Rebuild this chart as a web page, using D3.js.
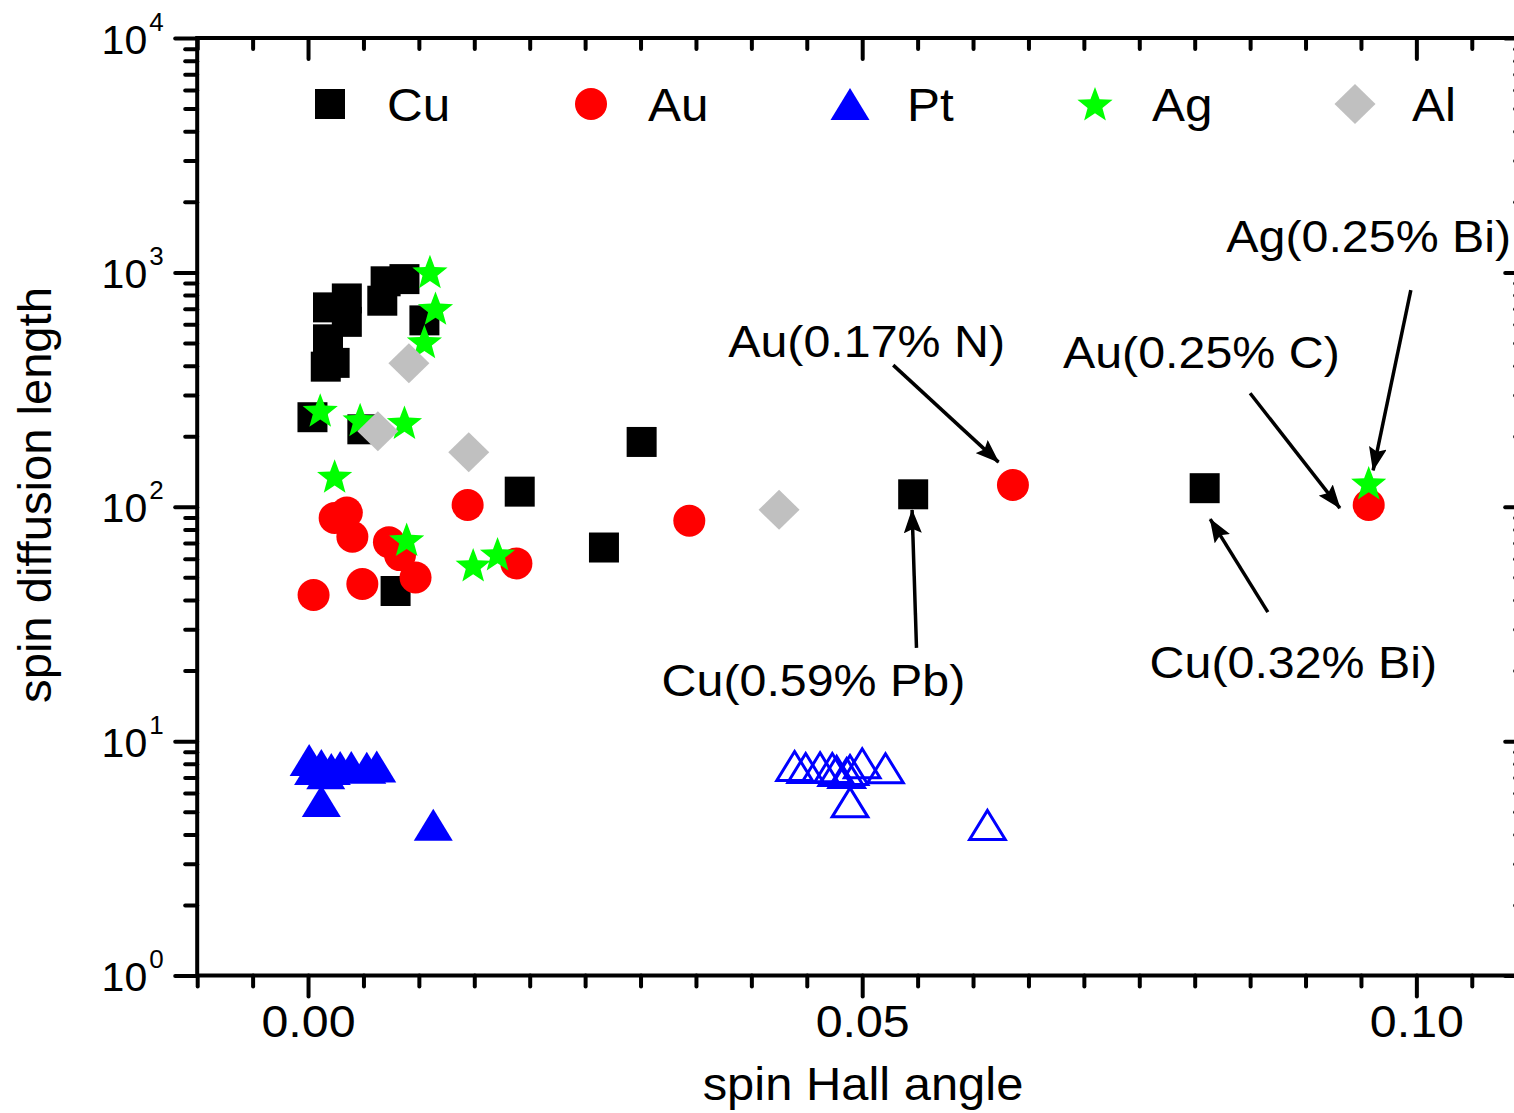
<!DOCTYPE html>
<html><head><meta charset="utf-8">
<script src="https://cdn.jsdelivr.net/npm/d3@7/dist/d3.min.js"></script>
<style>
body{margin:0;background:#fff}
svg{display:block}
text{font-family:"Liberation Sans",Arial,Helvetica,sans-serif;fill:#000}
</style>
</head><body>
<svg id="chart" width="1514" height="1113"></svg>
<script>
// ---------------- data ----------------
const cuX = [0.0018, 0.0035, 0.0035, 0.0018, 0.0016, 0.0024, 0.0067, 0.0070, 0.0087, 0.0105, 0.0004, 0.0049, 0.0079, 0.0191, 0.0301, 0.0267, 0.0546, 0.0809];
const cuY = [709, 774, 615, 518, 396, 411, 757, 916, 936, 624, 241, 214, 43.7, 116, 189, 67, 113, 120];

const auX = [0.0024, 0.0035, 0.0040, 0.0073, 0.0083, 0.0097, 0.0049, 0.0005, 0.0144, 0.0188, 0.0344, 0.0636, 0.0957];
const auY = [89.5, 94.5, 74.5, 70.6, 62.2, 49.9, 46.8, 42.0, 101.7, 57.3, 87.2, 123.8, 101.7];

const ptX = [0.0001, 0.0012, 0.0021, 0.0029, 0.0039, 0.0053, 0.0062, 0.0005, 0.0016, 0.0012, 0.0113];
const ptY = [8.3, 7.9, 7.6, 7.75, 7.75, 7.7, 7.8, 7.6, 7.3, 5.55, 4.4];

const ptOpenX = [0.0439, 0.0449, 0.0462, 0.0473, 0.0477, 0.0486, 0.0489, 0.0500, 0.0521, 0.0489, 0.0613];
const ptOpenY = [7.83, 7.68, 7.73, 7.68, 7.46, 7.31, 7.53, 8.04, 7.66, 5.48, 4.39];

const agX = [0.0110, 0.0115, 0.0105, 0.0011, 0.0047, 0.0087, 0.0024, 0.0089, 0.0149, 0.0171, 0.0957];
const agY = [1006, 702, 506, 258, 235, 229, 135, 72.4, 56.4, 62.9, 126.3];

const alX = [0.0091, 0.0063, 0.0145, 0.0425];
const alY = [410, 210, 171, 97];

const legendLabels = ["Cu", "Au", "Pt", "Ag", "Al"];

const xTickValues = [0.00, 0.05, 0.10];
const xTickLabels = ["0.00", "0.05", "0.10"];
const yTickValues = [1, 10, 100, 1000, 10000];
const yTickExponents = ["0", "1", "2", "3", "4"];

const xTitle = "spin Hall angle";
const yTitle = "spin diffusion length";

// annotations (data coordinates)
const annLabels = ["Au(0.17% N)", "Au(0.25% C)", "Ag(0.25% Bi)", "Cu(0.59% Pb)", "Cu(0.32% Bi)"];
const annTextX  = [0.0504, 0.0806, 0.0957, 0.0456, 0.0889];
const annTextY  = [435, 390, 1221, 15.6, 18.6];
const annFromX  = [0.0528, 0.0850, 0.0995, 0.0549, 0.0866];
const annFromY  = [402, 305, 840, 25.0, 35.5];
const annToX    = [0.0623, 0.0931, 0.0961, 0.0545, 0.0814];
const annToY    = [155, 98.7, 143, 96.8, 88.6];

// ---------------- layout ----------------
const svg = d3.select("#chart");
const L = 197.2, R = 1527.2, T = 38, B = 975.5;
const x = d3.scaleLinear().domain([-0.01, 0.11]).range([L, R]);
const y = d3.scaleLog().domain([1, 10000]).range([B, T]);
const SX = 1.075; // horizontal stretch of the reference lettering

const colors = {Cu: "#000000", Au: "#ff0000", Pt: "#0000ff", Ag: "#00ff00", Al: "#c0c0c0"};

function starPath(Ro, Ri) {
  let p = "";
  for (let i = 0; i < 10; i++) {
    const r = i % 2 === 0 ? Ro : Ri;
    const a = -Math.PI / 2 + i * Math.PI / 5;
    p += (i === 0 ? "M" : "L") + (r * Math.cos(a)).toFixed(2) + "," + (r * Math.sin(a) + 1.5).toFixed(2);
  }
  return p + "Z";
}
const shapes = {
  Cu: "M-15,-15H15V15H-15Z",
  Au: "M16,0A16,16 0 1,1 -16,0A16,16 0 1,1 16,0Z",
  Pt: "M0,-16L19.5,16L-19.5,16Z",
  Ag: starPath(18.5, 7.8),
  Al: "M0,-20L20.5,0L0,20L-20.5,0Z"
};
const openTri = "M0,-14.5L17.8,14.5L-17.8,14.5Z";

function stretchedText(parent, px, py, anchor, size, str) {
  return parent.append("text")
    .attr("transform", `translate(${px},${py}) scale(${SX},1)`)
    .attr("text-anchor", anchor).attr("font-size", size).text(str);
}

// ---------------- axes ----------------
const minorX = d3.range(-0.01, 0.1101, 0.005).map(v => +v.toFixed(4)).filter(v => !xTickValues.some(m => Math.abs(m - v) < 1e-6));
const minorY = [];
for (let e = 0; e < 4; e++) for (let k = 2; k <= 9; k++) minorY.push(k * Math.pow(10, e));

function styleAxis(g) {
  g.select(".domain").remove();
  g.selectAll(".tick line").attr("stroke", "#000").attr("stroke-width", 4).attr("stroke-linecap", "round");
}

// bottom
svg.append("g").attr("transform", `translate(0,${B})`)
  .call(d3.axisBottom(x).tickValues(minorX).tickSize(11).tickFormat("")).call(styleAxis);
const gxb = svg.append("g").attr("transform", `translate(0,${B})`)
  .call(d3.axisBottom(x).tickValues(xTickValues).tickSize(21).tickFormat("")).call(styleAxis);
gxb.selectAll(".tick").each(function(d, i) {
  stretchedText(d3.select(this), 0, 61.5, "middle", 45, xTickLabels[i]);
});
// top (ticks pointing down into plot)
svg.append("g").attr("transform", `translate(0,${T})`)
  .call(d3.axisBottom(x).tickValues(minorX).tickSize(11).tickFormat("")).call(styleAxis);
svg.append("g").attr("transform", `translate(0,${T})`)
  .call(d3.axisBottom(x).tickValues(xTickValues).tickSize(21).tickFormat("")).call(styleAxis);
// left
svg.append("g").attr("transform", `translate(${L},0)`)
  .call(d3.axisLeft(y).tickValues(minorY).tickSize(12).tickFormat("")).call(styleAxis);
const gyl = svg.append("g").attr("transform", `translate(${L},0)`)
  .call(d3.axisLeft(y).tickValues(yTickValues).tickSize(22).tickFormat("")).call(styleAxis);
gyl.selectAll(".tick").each(function(d, i) {
  const g = d3.select(this);
  g.append("text").attr("x", -50).attr("y", 15).attr("text-anchor", "end")
    .attr("font-size", 41).text("10");
  g.append("text").attr("x", -48).attr("y", -8).attr("text-anchor", "start")
    .attr("font-size", 26).text(yTickExponents[i]);
});
// right (ticks pointing left into plot)
svg.append("g").attr("transform", `translate(${R},0)`)
  .call(d3.axisLeft(y).tickValues(minorY).tickSize(12).tickFormat("")).call(styleAxis);
svg.append("g").attr("transform", `translate(${R},0)`)
  .call(d3.axisLeft(y).tickValues(yTickValues).tickSize(22).tickFormat("")).call(styleAxis);

// frame
svg.append("rect").attr("x", L).attr("y", T).attr("width", R - L).attr("height", B - T)
  .attr("fill", "none").attr("stroke", "#000").attr("stroke-width", 4);

// axis titles
stretchedText(svg, 863, 1100, "middle", 45.5, xTitle);
svg.append("text").attr("transform", "translate(51,495) rotate(-90) scale(1.025,1)").attr("text-anchor", "middle")
  .attr("font-size", 46).text(yTitle);

// ---------------- marks ----------------
const plot = svg.append("g");
function drawSeries(xs, ys, key) {
  plot.append("g").selectAll("path").data(xs.map((v, i) => [v, ys[i]])).join("path")
    .attr("transform", d => `translate(${x(d[0])},${y(d[1])})`)
    .attr("d", shapes[key]).attr("fill", colors[key]);
}
drawSeries(cuX, cuY, "Cu");
drawSeries(auX, auY, "Au");
drawSeries(ptX, ptY, "Pt");
plot.append("g").selectAll("path").data(ptOpenX.map((v, i) => [v, ptOpenY[i]])).join("path")
  .attr("transform", d => `translate(${x(d[0])},${y(d[1])})`)
  .attr("d", openTri).attr("fill", "none").attr("stroke", colors.Pt).attr("stroke-width", 3)
  .attr("stroke-linejoin", "miter");
drawSeries(agX, agY, "Ag");
drawSeries(alX, alY, "Al");

// ---------------- legend ----------------
const legendSymX = [330, 591, 850, 1095, 1355];
const legend = svg.append("g");
legendLabels.forEach((lab, i) => {
  legend.append("path").attr("transform", `translate(${legendSymX[i]},104)`)
    .attr("d", shapes[lab]).attr("fill", colors[lab]);
  stretchedText(legend, legendSymX[i] + 57, 121, "start", 46, lab);
});

// ---------------- annotations ----------------
svg.append("defs").append("marker").attr("id", "ah")
  .attr("viewBox", "0 0 24 18").attr("refX", 23).attr("refY", 9)
  .attr("markerWidth", 24).attr("markerHeight", 18).attr("markerUnits", "userSpaceOnUse")
  .attr("orient", "auto")
  .append("path").attr("d", "M0,0L24,9L0,18L4,9Z").attr("fill", "#000");
const ann = svg.append("g");
annLabels.forEach((lab, i) => {
  ann.append("line").attr("x1", x(annFromX[i])).attr("y1", y(annFromY[i]))
    .attr("x2", x(annToX[i])).attr("y2", y(annToY[i]))
    .attr("stroke", "#000").attr("stroke-width", 3.5).attr("marker-end", "url(#ah)");
  stretchedText(ann, x(annTextX[i]), y(annTextY[i]), "middle", 45, lab);
});
</script>
</body></html>
